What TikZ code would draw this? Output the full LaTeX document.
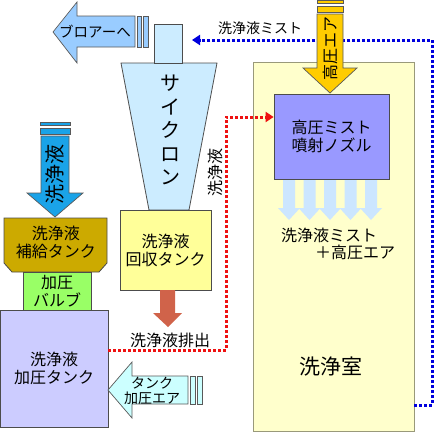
\documentclass[tikz,border=0pt]{standalone}
\usepackage{fontspec}
\setmainfont{Noto Sans CJK JP}
\usetikzlibrary{arrows.meta,positioning,calc}

\definecolor{blowfill}{HTML}{99CCFF}
\definecolor{cycfill}{HTML}{CCECFF}
\definecolor{colfill}{HTML}{FFFF99}
\definecolor{supfill}{HTML}{CCAA00}
\definecolor{valfill}{HTML}{99FF66}
\definecolor{prsfill}{HTML}{CCCCFF}
\definecolor{tairfill}{HTML}{CCFFFF}
\definecolor{roomfill}{HTML}{FFFFCC}
\definecolor{roomline}{HTML}{99997A}
\definecolor{nozfill}{HTML}{9999FF}
\definecolor{airfill}{HTML}{FFCC00}
\definecolor{liqfill}{HTML}{1AA3E8}
\definecolor{mistfill}{HTML}{CCE6FF}
\definecolor{drainfill}{HTML}{D0634A}
\definecolor{redflow}{HTML}{EE1111}
\definecolor{blueflow}{HTML}{0000DD}

\tikzset{
	box/.style={draw=black!70, line width=0.8pt, inner sep=0pt, align=center, font=\fontsize{16}{18}\selectfont},
	blk/.style={draw=black!65, line width=0.7pt},
	lbl/.style={inner sep=0pt, align=center, font=\fontsize{16}{18}\selectfont},
	flow/.style={line width=3pt, dash pattern=on 3pt off 2pt, -{Triangle[length=8pt,width=10pt]}}
}

\begin{document}
\begin{tikzpicture}[x=1pt,y=-1pt]
	\useasboundingbox (0,0) rectangle (436,431);

	% washing room and nozzle
	\node[box, draw=roomline, fill=roomfill, minimum width=161pt, minimum height=369pt] (room) at (333.5,246.5) {};
	\node[box, fill=nozfill, minimum width=115pt, minimum height=85pt] (nozzle) at (331.5,136.5) {高圧ミスト\\噴射ノズル};
	\foreach \x in {289,309.5,330,350.5,371}
		\fill[mistfill] (\x-6,180) -- (\x+6,180) -- (\x+6,208) -- (\x+11,208) -- (\x,220) -- (\x-11,208) -- (\x-6,208) -- cycle;
	\node[lbl] (mist1) at (329,235) {洗浄液ミスト};
	\node[lbl] (mist2) at (355,252) {＋高圧エア};
	\node[lbl, font=\fontsize{21}{24}\selectfont] (roomtxt) at (331,367) {洗浄室};

	% cyclone
	\draw[box, fill=cycfill] (121,63) -- (217,63) -- (189,210) -- (149,210) -- cycle;
	\node[lbl, font=\fontsize{20}{23.5}\selectfont] (cyclone) at (170,130) {サ\\イ\\ク\\ロ\\ン};
	\node[box, fill=cycfill, minimum width=28pt, minimum height=39pt] (cyctop) at (168,43.5) {};
	\node[box, fill=colfill, minimum width=91pt, minimum height=80pt] (coltank) at (165.5,250) {洗浄液\\回収タンク};
	\fill[drainfill] (160,290) -- (175,290) -- (175,313) -- (182,313) -- (168,327) -- (153,313) -- (160,313) -- cycle;
	\node[lbl] (draintxt) at (170,340) {洗浄液排出};

	% left tanks
	\draw[box, fill=supfill] (4,218) -- (107,218) -- (107,263) -- (99,272) -- (12,272) -- (4,263) -- cycle;
	\node[lbl] (suptank) at (56,242) {洗浄液\\補給タンク};
	\node[box, fill=valfill, minimum width=68pt, minimum height=38pt] (valve) at (57,291) {加圧\\バルブ};
	\node[box, fill=prsfill, minimum width=108pt, minimum height=117pt] (prstank) at (54,368.5) {洗浄液\\加圧タンク};

	% flows
	\coordinate (mistend) at (192,40);
	\draw[flow, draw=blueflow, blueflow] ([yshift=-158.5pt]room.east) -- ++(18,0) |- (mistend);
	\node[lbl, font=\fontsize{14}{16}\selectfont] (misttxt) at (260,28) {洗浄液ミスト};
	\draw[flow, draw=redflow, redflow] ([yshift=18.5pt]prstank.east) -- ++(118,0) |- ([yshift=19.5pt]nozzle.west);
	\node[lbl, rotate=90] (liqline) at (215,172) {洗浄液};

	% block arrows
	\draw[blk, fill=blowfill] (53,32) -- (77,2) -- (77,16) -- (135,16) -- (135,47) -- (77,47) -- (77,63) -- cycle;
	\draw[blk, fill=blowfill] (137,16) rectangle (141,47) (143,16) rectangle (148,47);
	\node[lbl, font=\fontsize{14.5}{16}\selectfont] (blowtxt) at (95,32) {ブロアーへ};

	\draw[blk, fill=airfill] (317,0.5) rectangle (343,3.5) (317,6.5) rectangle (343,12.5);
	\draw[blk, fill=airfill] (317,14) -- (343,14) -- (343,68) -- (357,68) -- (330,93) -- (303,68) -- (317,68) -- cycle;
	\node[lbl, rotate=90] (airtxt) at (330,48) {高圧エア};

	\draw[blk, fill=liqfill] (40,122) rectangle (70,125) (40,128) rectangle (70,134);
	\draw[blk, fill=liqfill] (41,136) -- (69,136) -- (69,193) -- (83,193) -- (55,217) -- (27,193) -- (41,193) -- cycle;
	\node[lbl, rotate=90, font=\fontsize{20}{22}\selectfont] (liqtxt) at (55,174) {洗浄液};

	\draw[blk, fill=tairfill] (108,390) -- (132,362) -- (132,376) -- (188,376) -- (188,404) -- (132,404) -- (132,418) -- cycle;
	\draw[blk, fill=tairfill] (190,376) rectangle (195,404) (197,376) rectangle (202,404);
	\node[lbl, font=\fontsize{14}{15}\selectfont] (tairtxt) at (152,391) {タンク\\加圧エア};
\end{tikzpicture}
\end{document}
